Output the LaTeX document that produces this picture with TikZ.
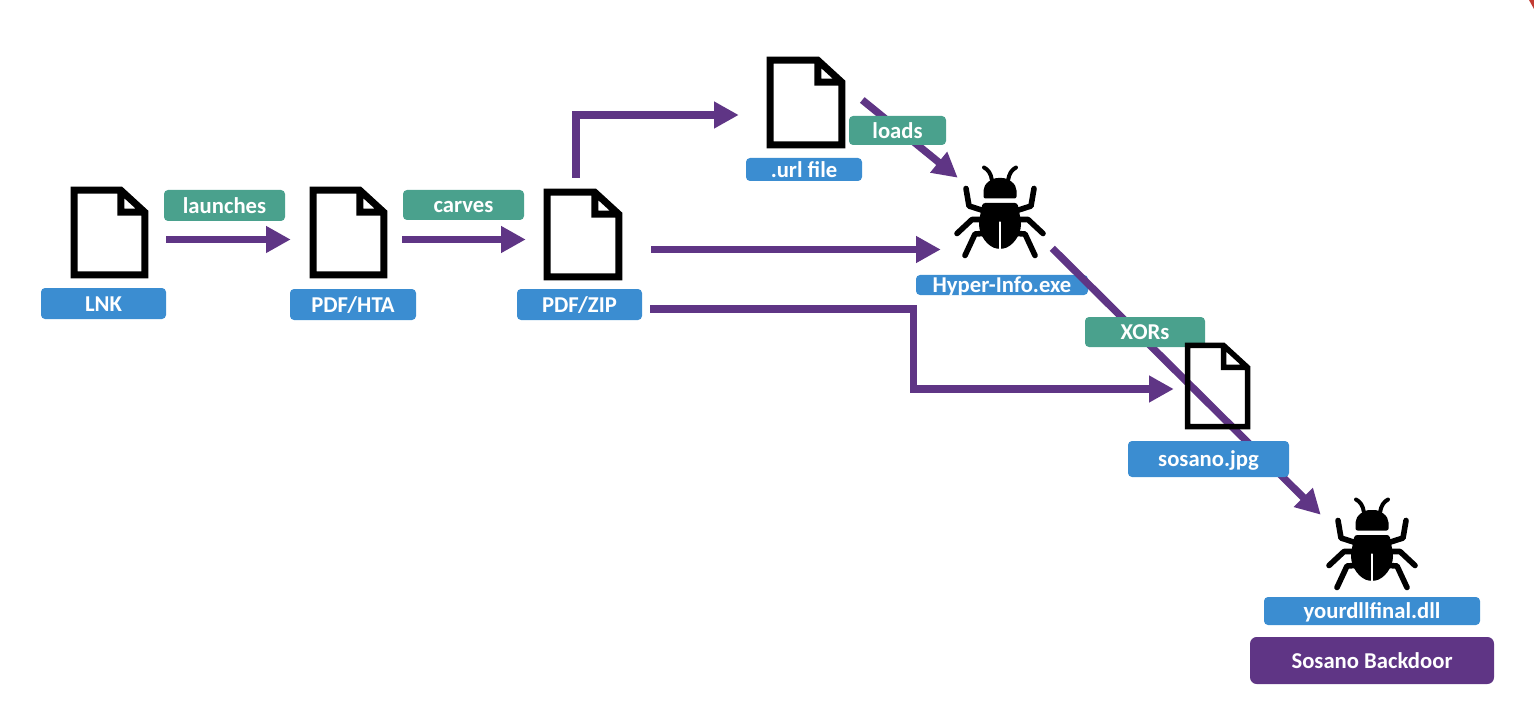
\documentclass[tikz,border=0pt]{standalone}
\usepackage{fontspec}
\setmainfont{Carlito}
\usetikzlibrary{arrows.meta,calc}

\definecolor{tagblue}{HTML}{3B8DD1}
\definecolor{taggreen}{HTML}{4AA18D}
\definecolor{flowpurple}{HTML}{5F3585}
\definecolor{cornerred}{HTML}{C23B33}

\tikzset{
  boxsize/.style 2 args={minimum width=#1*0.75pt,minimum height=#2*0.75pt},
  tag/.style={inner sep=0pt,rounded corners=3pt,text=white,font=\fontsize{17}{19}\selectfont\bfseries,text height=12.5pt,text depth=1pt},
  bluetag/.style={tag,fill=tagblue},
  greentag/.style={tag,fill=taggreen},
  purpletag/.style={tag,fill=flowpurple,rounded corners=5pt},
  flowline/.style={draw=flowpurple,line width=5.5pt,-{Triangle[length=18.5pt,width=19pt]}},
  iconbox/.style={inner sep=0pt},
  bugline/.style={line width=4.2pt,line cap=round,line join=round},
  pics/bugicon/.style={code={
    % head and body
    \fill[rounded corners=1.5pt] (-16.5,-13) -- (-16.5,-19) .. controls (-16.5,-28) and (-8,-33.5) .. (0,-33.5) .. controls (8,-33.5) and (16.5,-28) .. (16.5,-19) -- (16.5,-13) -- cycle;
    \fill[rounded corners=2pt] (-17.5,-8.5) -- (17.5,-8.5) -- (21,10) .. controls (21,24) and (12,36) .. (0,37.5) .. controls (-12,36) and (-21,24) .. (-21,10) -- cycle;
    \draw[white,line width=2pt,line cap=round] (0,11) -- (0,40);
    % antennae and legs
    \foreach \side in {1,-1}{
      \begin{scope}[xscale=\side]
        \draw[bugline,line width=3pt] (8,-31) .. controls (9,-38) and (12,-42) .. (16,-44);
        \draw[bugline] (17,-1) -- (31,-5.5) -- (34,-23);
        \draw[bugline] (18,8) -- (28,8) -- (43,22);
        \draw[bugline] (17,22) -- (25,22.5) -- (35,44);
      \end{scope}
    }
  }}
}

% page outline inside a named node: node, line width
\newcommand{\pagelines}[2]{
  \draw[line width=#2*0.75pt,miter limit=4]
    ($(#1.north west)+(#2/2,#2/2)$) -- ($(#1.north east)+(-#2/2-24,#2/2)$) -- ($(#1.north east)+(-#2/2,#2/2+22)$)
    -- ($(#1.south east)+(-#2/2,-#2/2)$) -- ($(#1.south west)+(#2/2,-#2/2)$) -- cycle
    ($(#1.north east)+(-#2/2-24,#2/2)$) -- ++(0,22) -- ++(24,0);
}

\begin{document}
\begin{tikzpicture}[x=0.75pt,y=0.75pt,yscale=-1]
\useasboundingbox (0,0) rectangle (1534,702);

% icon places
\node[iconbox,boxsize={77}{91}] (lnkfile) at (109.5,232.5) {};
\node[iconbox,boxsize={77}{91}] (htafile) at (348.5,232.5) {};
\node[iconbox,boxsize={78}{91}] (zipfile) at (583,234.5) {};
\node[iconbox,boxsize={78}{91}] (urlfile) at (806,102.5) {};
\node[iconbox,boxsize={65}{86}] (jpgfile) at (1217.5,386) {};
\node[iconbox,boxsize={90}{93}] (hyperbug) at (1000,211.5) {};
\node[iconbox,boxsize={90}{93}] (finalbug) at (1372,543.5) {};

% this tag lies under the long arrow
\node[bluetag,boxsize={172}{20}] (hypertag) at (1002,285) {Hyper-Info.exe};

% arrows
\draw[flowline] ($(lnkfile.east)+(18,7)$) -- ($(htafile.west)+(-19,7)$);
\draw[flowline] ($(htafile.east)+(15,7)$) -- ($(zipfile.west)+(-18,5)$);
\draw[flowline] ($(zipfile.north)+(-7,-11)$) |- ($(urlfile.west)+(-28,12.5)$);
\draw[flowline] ($(zipfile.east)+(29,15)$) -- ($(hyperbug.west)+(-14,38)$);
\draw[flowline] ($(zipfile.east)+(28,74.5)$) -- ++(263,0) -- ++(0,80) -- ($(jpgfile.west)+(-11,3)$);
\draw[flowline] ($(urlfile.east)+(17,-2.5)$) -- ($(hyperbug.north west)+(3,13)$);
\draw[flowline] ($(hyperbug.south east)+(7,-10)$) -- ($(finalbug.north west)+(-6,18)$);

% icons
\foreach \pagename in {lnkfile,htafile,zipfile,urlfile}{
  \pagelines{\pagename}{7}
}
\pic[transform shape] at (hyperbug) {bugicon};
\pic[transform shape] at (finalbug) {bugicon};

% tags
\node[bluetag,boxsize={125}{31}] (lnktag) at (103.5,303.5) {LNK};
\node[bluetag,boxsize={126}{31}] (htatag) at (353,304.5) {PDF/HTA};
\node[bluetag,boxsize={125}{31}] (ziptag) at (579.5,304.5) {PDF/ZIP};
\node[bluetag,boxsize={116}{23}] (urltag) at (804,169.5) {.url file};
\node[bluetag,boxsize={161}{36}] (jpgtag) at (1208.5,459) {sosano.jpg};
\node[bluetag,boxsize={216}{28}] (finaltag) at (1372,611) {yourdllfinal.dll};
\node[purpletag,boxsize={244}{47}] (backdoortag) at (1372,660.5) {Sosano Backdoor};

\node[greentag,boxsize={121}{31}] (launchestag) at (224.5,205.5) {launches};
\node[greentag,boxsize={121}{30}] (carvestag) at (463.5,205) {carves};
\node[greentag,boxsize={97}{29}] (loadstag) at (897.5,130.5) {loads};
\node[greentag,boxsize={120}{30}] (xorstag) at (1145,332) {XORs};

% page over the XORs tag
\pagelines{jpgfile}{5.5}

% corner mark
\fill[cornerred] (1529,0) -- (1534,0) -- (1534,9) -- cycle;
\end{tikzpicture}
\end{document}
